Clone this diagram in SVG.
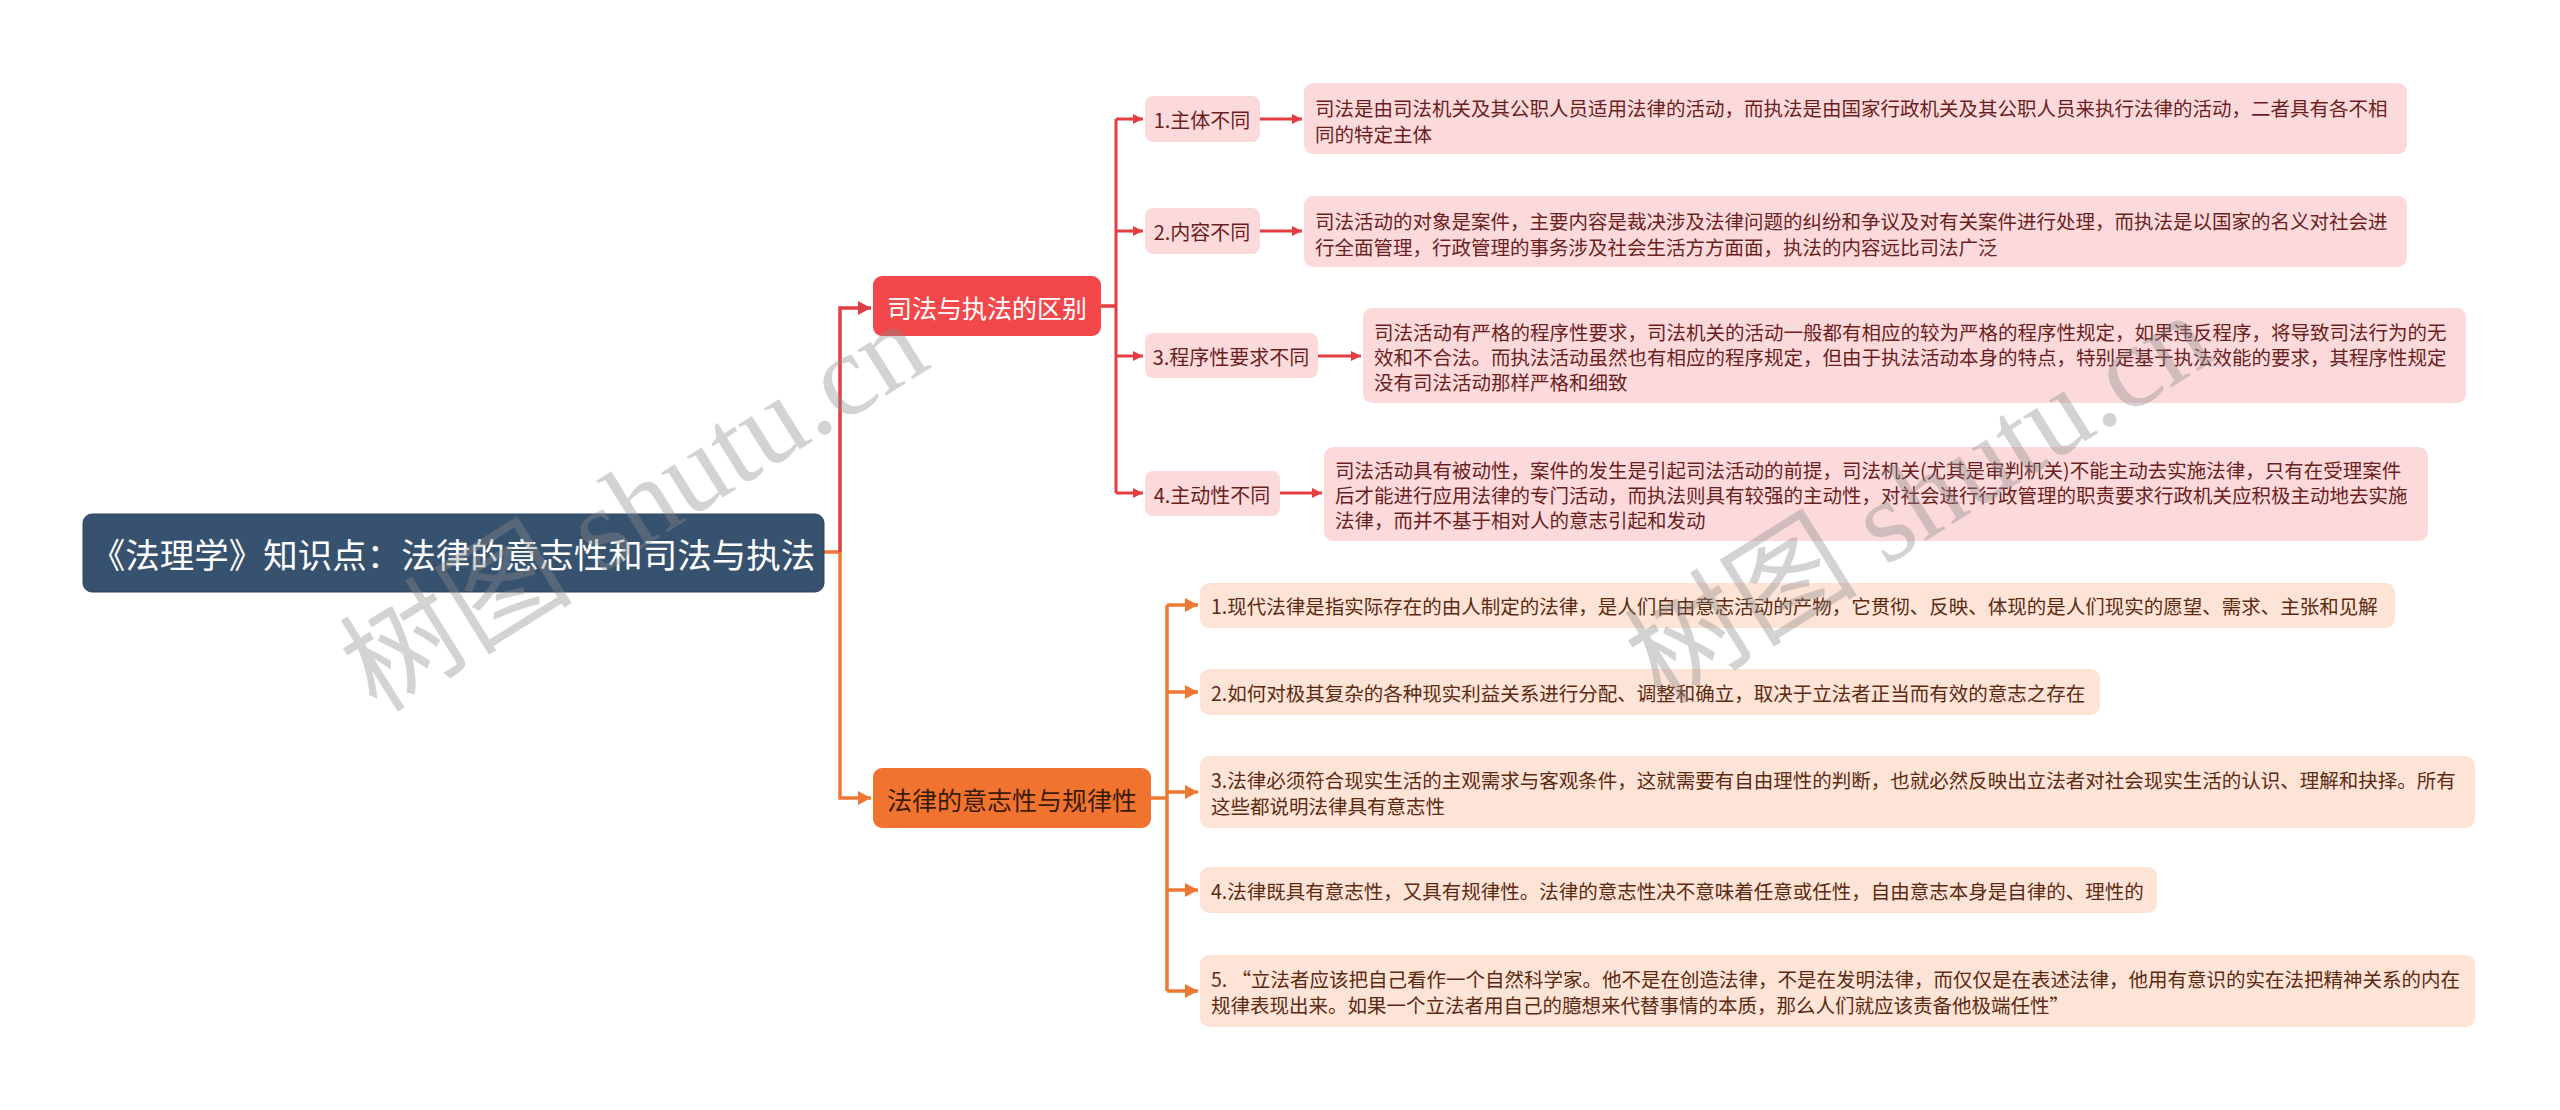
<svg xmlns="http://www.w3.org/2000/svg" width="2560" height="1110" viewBox="0 0 2560 1110">
<defs>
<style>
text{font-family:"Noto Sans CJK SC","Noto Sans",sans-serif;}
.root-box{fill:#37526f;stroke:#2d445e;stroke-width:1;}
.root-t{fill:#ffffff;font-size:34.5px;}
.b1-box{fill:#f2484b;}
.b1-t{fill:#ffffff;font-size:25px;}
.b2-box{fill:#f0742f;}
.b2-t{fill:#3b1a08;font-size:25px;}
.rc-box{fill:#fcdadb;}
.rc-t{fill:#6b1e1e;font-size:20px;}
.rd-t{fill:#6b1e1e;font-size:19.5px;}
.oc-box{fill:#fde4d7;}
.oc-t{fill:#5c2a10;font-size:19.5px;}
.lr{fill:none;stroke:#e23d42;stroke-width:3.5;}
.lrs{fill:none;stroke:#e23d42;stroke-width:3;}
.lo{fill:none;stroke:#ee7833;stroke-width:3.5;}
.wm{font-family:"Liberation Serif","Noto Sans CJK SC",serif;font-size:117px;fill:#8c8c8c;fill-opacity:0.38;}
</style>
<marker id="ar" markerUnits="userSpaceOnUse" markerWidth="14" markerHeight="14" refX="13" refY="7" orient="auto"><path d="M0,0 L13,7 L0,14 Z" fill="#e23d42"/></marker>
<marker id="ars" markerUnits="userSpaceOnUse" markerWidth="10" markerHeight="10" refX="10" refY="5" orient="auto"><path d="M0,0 L10,5 L0,10 Z" fill="#e23d42"/></marker>
<marker id="ao" markerUnits="userSpaceOnUse" markerWidth="14" markerHeight="14" refX="13" refY="7" orient="auto"><path d="M0,0 L13,7 L0,14 Z" fill="#ee7833"/></marker>
</defs>
<rect width="2560" height="1110" fill="#ffffff"/>

<g id="connectors">
<path class="lo" d="M824,552 H840 V798 H871" marker-end="url(#ao)"/>
<path class="lr" d="M840,552 V308 H871" marker-end="url(#ar)"/>
<path class="lr" d="M1101,306 H1116"/>
<path class="lrs" d="M1116,119 V493"/>
<path class="lrs" d="M1116,119 H1143" marker-end="url(#ars)"/>
<path class="lrs" d="M1116,231 H1143" marker-end="url(#ars)"/>
<path class="lrs" d="M1116,356 H1143" marker-end="url(#ars)"/>
<path class="lrs" d="M1116,493 H1143" marker-end="url(#ars)"/>
<path class="lrs" d="M1260,119 H1302" marker-end="url(#ars)"/>
<path class="lrs" d="M1260,231 H1302" marker-end="url(#ars)"/>
<path class="lrs" d="M1318,356 H1361" marker-end="url(#ars)"/>
<path class="lrs" d="M1280,493 H1322" marker-end="url(#ars)"/>
<path class="lo" d="M1151,798 H1167"/>
<path class="lo" d="M1167,605 V991"/>
<path class="lo" d="M1167,605 H1198" marker-end="url(#ao)"/>
<path class="lo" d="M1167,692 H1198" marker-end="url(#ao)"/>
<path class="lo" d="M1167,792 H1198" marker-end="url(#ao)"/>
<path class="lo" d="M1167,890 H1198" marker-end="url(#ao)"/>
<path class="lo" d="M1167,991 H1198" marker-end="url(#ao)"/>
</g>

<g id="root">
<rect class="root-box" x="83" y="514" width="741" height="78" rx="9"/>
<text class="root-t" x="453" y="553" text-anchor="middle" dominant-baseline="central">《法理学》知识点：法律的意志性和司法与执法</text>
</g>

<g id="branch-sifa">
<rect class="b1-box" x="873" y="276" width="228" height="60" rx="9"/>
<text class="b1-t" x="987" y="307" text-anchor="middle" dominant-baseline="central">司法与执法的区别</text>
</g>

<g id="branch-falv">
<rect class="b2-box" x="873" y="768" width="278" height="60" rx="9"/>
<text class="b2-t" x="1012" y="799" text-anchor="middle" dominant-baseline="central">法律的意志性与规律性</text>
</g>

<g id="sub-1">
<rect class="rc-box" x="1145" y="96" width="115" height="46" rx="8"/>
<text class="rc-t" x="1202" y="119" text-anchor="middle" dominant-baseline="central">1.主体不同</text>
</g>
<g id="sub-2">
<rect class="rc-box" x="1145" y="208" width="115" height="46" rx="8"/>
<text class="rc-t" x="1202" y="231" text-anchor="middle" dominant-baseline="central">2.内容不同</text>
</g>
<g id="sub-3">
<rect class="rc-box" x="1145" y="333" width="173" height="45" rx="8"/>
<text class="rc-t" x="1231" y="356" text-anchor="middle" dominant-baseline="central">3.程序性要求不同</text>
</g>
<g id="sub-4">
<rect class="rc-box" x="1145" y="471" width="135" height="45" rx="8"/>
<text class="rc-t" x="1212" y="494" text-anchor="middle" dominant-baseline="central">4.主动性不同</text>
</g>

<g id="detail-1">
<rect class="rc-box" x="1304" y="83" width="1103" height="71" rx="9"/>
<text class="rd-t" dominant-baseline="central"><tspan x="1315" y="107">司法是由司法机关及其公职人员适用法律的活动，而执法是由国家行政机关及其公职人员来执行法律的活动，二者具有各不相</tspan><tspan x="1315" y="133">同的特定主体</tspan></text>
</g>
<g id="detail-2">
<rect class="rc-box" x="1304" y="196" width="1103" height="71" rx="9"/>
<text class="rd-t" dominant-baseline="central"><tspan x="1315" y="220">司法活动的对象是案件，主要内容是裁决涉及法律问题的纠纷和争议及对有关案件进行处理，而执法是以国家的名义对社会进</tspan><tspan x="1315" y="246">行全面管理，行政管理的事务涉及社会生活方方面面，执法的内容远比司法广泛</tspan></text>
</g>
<g id="detail-3">
<rect class="rc-box" x="1363" y="308" width="1103" height="95" rx="9"/>
<text class="rd-t" dominant-baseline="central"><tspan x="1374" y="331">司法活动有严格的程序性要求，司法机关的活动一般都有相应的较为严格的程序性规定，如果违反程序，将导致司法行为的无</tspan><tspan x="1374" y="356">效和不合法。而执法活动虽然也有相应的程序规定，但由于执法活动本身的特点，特别是基于执法效能的要求，其程序性规定</tspan><tspan x="1374" y="381">没有司法活动那样严格和细致</tspan></text>
</g>
<g id="detail-4">
<rect class="rc-box" x="1324" y="447" width="1104" height="94" rx="9"/>
<text class="rd-t" dominant-baseline="central"><tspan x="1335" y="469">司法活动具有被动性，案件的发生是引起司法活动的前提，司法机关(尤其是审判机关)不能主动去实施法律，只有在受理案件</tspan><tspan x="1335" y="494">后才能进行应用法律的专门活动，而执法则具有较强的主动性，对社会进行行政管理的职责要求行政机关应积极主动地去实施</tspan><tspan x="1335" y="519">法律，而并不基于相对人的意志引起和发动</tspan></text>
</g>

<g id="will-1">
<rect class="oc-box" x="1200" y="583" width="1195" height="45" rx="9"/>
<text class="oc-t" x="1211" y="605" dominant-baseline="central">1.现代法律是指实际存在的由人制定的法律，是人们自由意志活动的产物，它贯彻、反映、体现的是人们现实的愿望、需求、主张和见解</text>
</g>
<g id="will-2">
<rect class="oc-box" x="1200" y="669" width="900" height="46" rx="9"/>
<text class="oc-t" x="1211" y="692" dominant-baseline="central">2.如何对极其复杂的各种现实利益关系进行分配、调整和确立，取决于立法者正当而有效的意志之存在</text>
</g>
<g id="will-3">
<rect class="oc-box" x="1200" y="756" width="1275" height="72" rx="9"/>
<text class="oc-t" dominant-baseline="central"><tspan x="1211" y="779">3.法律必须符合现实生活的主观需求与客观条件，这就需要有自由理性的判断，也就必然反映出立法者对社会现实生活的认识、理解和抉择。所有</tspan><tspan x="1211" y="805">这些都说明法律具有意志性</tspan></text>
</g>
<g id="will-4">
<rect class="oc-box" x="1200" y="867" width="957" height="46" rx="9"/>
<text class="oc-t" x="1211" y="890" dominant-baseline="central">4.法律既具有意志性，又具有规律性。法律的意志性决不意味着任意或任性，自由意志本身是自律的、理性的</text>
</g>
<g id="will-5">
<rect class="oc-box" x="1200" y="955" width="1275" height="72" rx="9"/>
<text class="oc-t" dominant-baseline="central"><tspan x="1211" y="978">5. “立法者应该把自己看作一个自然科学家。他不是在创造法律，不是在发明法律，而仅仅是在表述法律，他用有意识的实在法把精神关系的内在</tspan><tspan x="1211" y="1004">规律表现出来。如果一个立法者用自己的臆想来代替事情的本质，那么人们就应该责备他极端任性”</tspan></text>
</g>

<g id="watermarks">
<text class="wm" x="655" y="540" text-anchor="middle" transform="rotate(-32 655 540)">树图 shutu.cn</text>
<text class="wm" x="1940" y="532" text-anchor="middle" transform="rotate(-32 1940 532)">树图 shutu.cn</text>
</g>
</svg>
